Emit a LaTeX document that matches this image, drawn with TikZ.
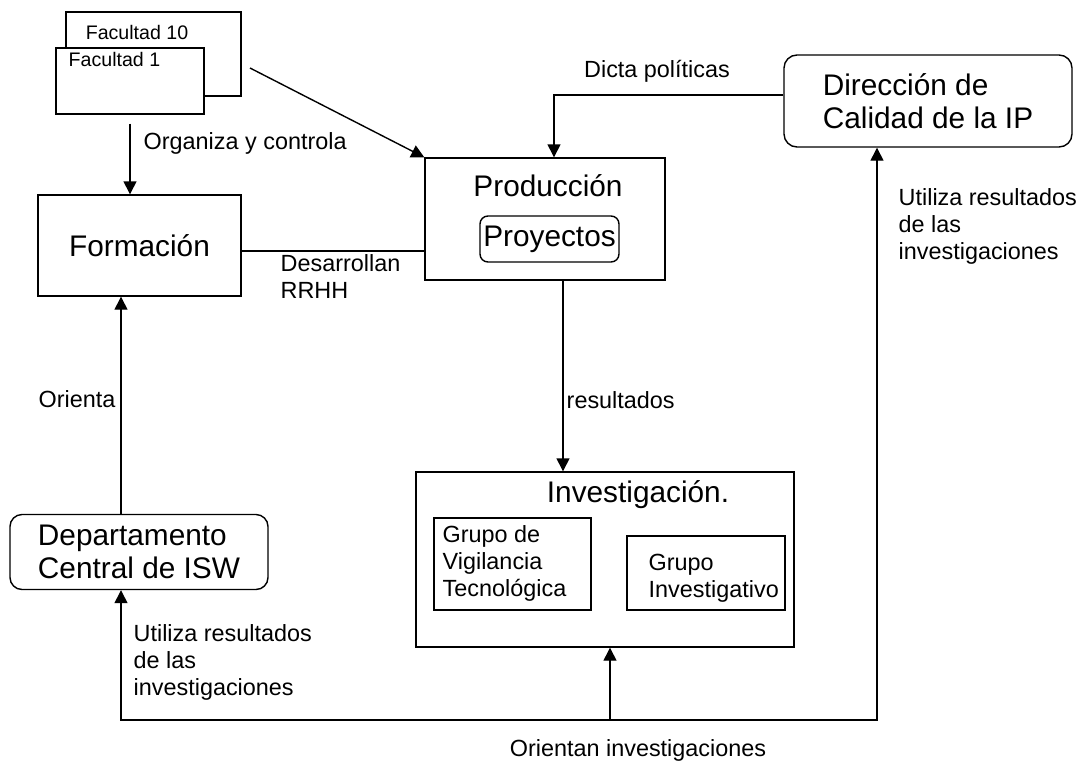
\documentclass[tikz,border=0pt]{standalone}
\usepackage{fontspec}
\setmainfont{Liberation Sans}
\usetikzlibrary{arrows.meta}
\begin{document}
\begin{tikzpicture}[x=1pt,y=-1pt,
  line width=1.4pt,
  arr/.style={-{Triangle[length=13pt,width=13pt]}},
  dblarr/.style={{Triangle[length=13pt,width=13pt]}-{Triangle[length=13pt,width=13pt]}},
  box/.style={draw,rectangle,inner sep=0pt,fill=white},
  rbox/.style={box,rounded corners=13pt},
  big/.style={font=\fontsize{29.8}{33}\selectfont},
  mid/.style={font=\fontsize{23.4}{27}\selectfont},
  small/.style={font=\fontsize{19.6}{22}\selectfont},
  lbl/.style={inner sep=0pt,align=left}]
\useasboundingbox (0,0) rectangle (1081,763);

% stacked faculty frames
\node[box,minimum width=175pt,minimum height=84pt] (fac10) at (153.5,54) {};
\node[box,minimum width=148pt,minimum height=66pt] (fac1) at (130,81) {};
\node[lbl,small] (fac10t) at (137,32) {Facultad 10};
\node[lbl,small,anchor=west] (fac1t) at (68,59) {Facultad 1};

% main blocks
\node[box,big,minimum width=203pt,minimum height=101pt] (form) at (139.5,245.5) {Formación};
\node[box,minimum width=240pt,minimum height=122pt] (prod) at (545,219) {};
\node[lbl,big] (prodt) at (548,186) {Producción};
\node[box,big,rounded corners=8pt,minimum width=139pt,minimum height=46pt] (proy) at (549.5,239) {Proyectos};

\node[rbox,big,align=left,minimum width=288pt,minimum height=92pt] (dir) at (928,101)
  {Dirección de\\Calidad de la IP};

\node[box,minimum width=378pt,minimum height=175pt] (inv) at (605,559.5) {};
\node[lbl,big] (invt) at (638,495) {Investigación.};
\node[box,minimum width=157pt,minimum height=92pt] (gvt) at (512.5,564) {};
\node[lbl,mid,anchor=west] (gvtt) at (442,563) {Grupo de\\Vigilancia\\Tecnológica};
\node[box,minimum width=158pt,minimum height=74pt] (gi) at (706,573) {};
\node[lbl,mid,anchor=west] (git) at (648,578.5) {Grupo\\Investigativo};

\node[rbox,big,align=left,rounded corners=12pt,minimum width=258pt,minimum height=75pt] (dep) at (139,552)
  {Departamento\\Central de ISW};

% connector helper points
\coordinate (fk) at (250,68);
\coordinate (dp) at (554,95);
\coordinate (rx) at (563,0);
\coordinate (ox) at (121,0);
\coordinate (bl) at (121,720);
\coordinate (bm) at (610,720);
\coordinate (br) at (877,720);

% connectors
\draw[arr] ([yshift=-9pt]fac1.south) -- (form.north -| fac1.south);
\draw[arr] (fk) -- (prod.north west);
\draw[arr] (dir.west |- dp) -- (dp) -- (prod.north -| dp);
\draw ([yshift=-5.5pt]form.east) -- ([yshift=-5.5pt]form.east -| prod.west);
\draw[arr] (prod.south -| rx) -- (inv.north -| rx);
\draw[arr] (dep.north -| ox) -- (form.south -| ox);
\draw[dblarr] (dep.south -| bl) -- (bl) -- (br) -- (dir.south -| br);
\draw[arr] (bm) -- (inv.south -| bm);

% connector labels
\node[lbl,mid,anchor=west] (l1) at (143,143) {Organiza y controla};
\node[lbl,mid] (l2) at (657,71) {Dicta políticas};
\node[lbl,mid,anchor=west] (l3) at (280,277) {Desarrollan\\RRHH};
\node[lbl,mid,anchor=west] (l4) at (566,400) {resultados};
\node[lbl,mid,anchor=east] (l5) at (116,399) {Orienta};
\node[lbl,mid,anchor=west] (l6) at (898,226) {Utiliza resultados\\de las\\investigaciones};
\node[lbl,mid,anchor=west] (l7) at (133,662) {Utiliza resultados\\de las\\investigaciones};
\node[lbl,mid] (l8) at (638,750) {Orientan investigaciones};
\end{tikzpicture}
\end{document}
